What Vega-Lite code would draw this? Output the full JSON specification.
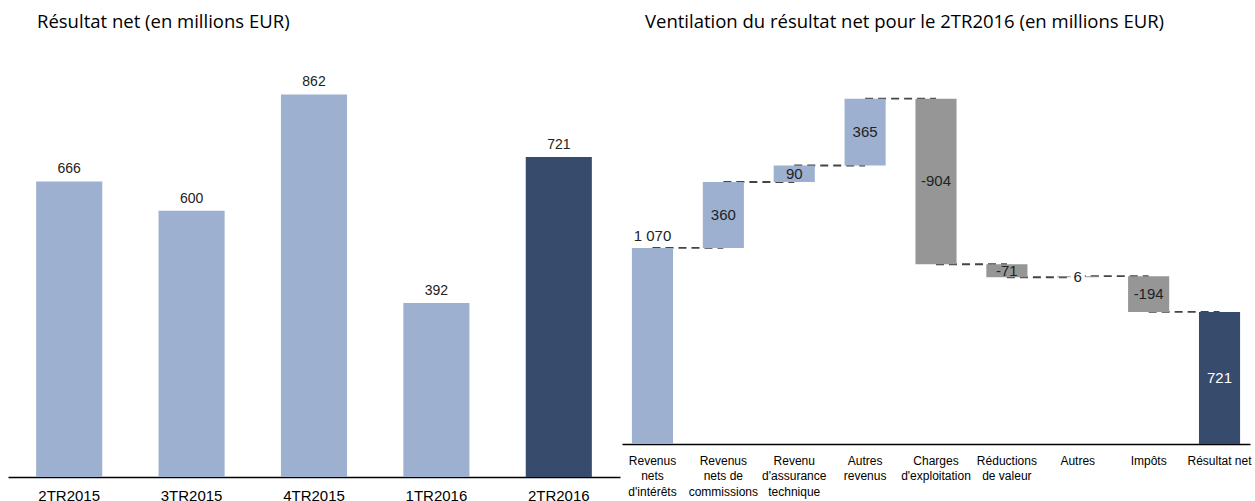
{
  "$schema": "https://vega.github.io/schema/vega-lite/v6.json",
  "background": "white",
  "padding": {"left": 8, "top": 12, "right": 0, "bottom": 0},
  "spacing": 2,
  "bounds": "flush",
  "config": {
    "view": {"stroke": null},
    "font": "Liberation Sans",
    "title": {"font": "Open Sans", "fontSize": 18.5, "fontWeight": "normal", "color": "#000", "anchor": "start", "frame": "group"}
  },
  "datasets": {
    "net": [
      {"q": "2TR2015", "v": 666},
      {"q": "3TR2015", "v": 600},
      {"q": "4TR2015", "v": 862},
      {"q": "1TR2016", "v": 392},
      {"q": "2TR2016", "v": 721}
    ],
    "wf": [
      {"cat": "Revenus nets d'intérêts", "start": 0, "end": 1070, "label": "1 070", "type": "hausse"},
      {"cat": "Revenus nets de commissions", "start": 1070, "end": 1430, "label": "360", "type": "hausse"},
      {"cat": "Revenu d'assurance technique", "start": 1430, "end": 1520, "label": "90", "type": "hausse"},
      {"cat": "Autres revenus", "start": 1520, "end": 1885, "label": "365", "type": "hausse"},
      {"cat": "Charges d'exploitation", "start": 1885, "end": 981, "label": "-904", "type": "baisse"},
      {"cat": "Réductions de valeur", "start": 981, "end": 910, "label": "-71", "type": "baisse"},
      {"cat": "Autres", "start": 910, "end": 916, "label": "6", "type": "baisse"},
      {"cat": "Impôts", "start": 916, "end": 721, "label": "-194", "type": "baisse"},
      {"cat": "Résultat net", "start": 0, "end": 721, "label": "721", "type": "total"}
    ],
    "conn": [
      {"cat": "Revenus nets d'intérêts", "next": "Revenus nets de commissions", "level": 1070},
      {"cat": "Revenus nets de commissions", "next": "Revenu d'assurance technique", "level": 1430},
      {"cat": "Revenu d'assurance technique", "next": "Autres revenus", "level": 1520},
      {"cat": "Autres revenus", "next": "Charges d'exploitation", "level": 1885},
      {"cat": "Charges d'exploitation", "next": "Réductions de valeur", "level": 981},
      {"cat": "Réductions de valeur", "next": "Autres", "level": 910},
      {"cat": "Autres", "next": "Impôts", "level": 916},
      {"cat": "Impôts", "next": "Résultat net", "level": 721}
    ]
  },
  "hconcat": [
    {
      "width": 612,
      "height": 426,
      "title": {"text": "Résultat net (en millions EUR)", "dx": 29, "offset": 20},
      "data": {"name": "net"},
      "encoding": {
        "x": {
          "field": "q", "type": "nominal", "sort": null,
          "scale": {"paddingInner": 0.46, "paddingOuter": 0.23},
          "axis": {"title": null, "labelAngle": 0, "labelAlign": "center", "ticks": false, "domainColor": "#000", "domainWidth": 1.5, "labelFontSize": 15, "labelColor": "#000", "labelPadding": 11}
        },
        "y": {"field": "v", "type": "quantitative", "scale": {"domain": [0, 960], "nice": false}, "axis": null}
      },
      "layer": [
        {
          "mark": {"type": "bar"},
          "encoding": {
            "color": {"condition": {"test": "datum.q === '2TR2016'", "value": "#374C6C"}, "value": "#9DB0CF"}
          }
        },
        {
          "mark": {"type": "text", "baseline": "bottom", "dy": -5, "fontSize": 14, "color": "#222"},
          "encoding": {"text": {"field": "v", "type": "quantitative"}}
        }
      ]
    },
    {
      "width": 628,
      "height": 393,
      "title": {"text": "Ventilation du résultat net pour le 2TR2016 (en millions EUR)", "dx": 23, "offset": 20},
      "layer": [
        {
          "data": {"name": "conn"},
          "mark": {"type": "rule", "strokeDash": [8, 5], "strokeWidth": 1.8, "color": "#444"},
          "encoding": {
            "x": {"field": "cat", "type": "nominal", "scale": {"domain": ["Revenus nets d'intérêts", "Revenus nets de commissions", "Revenu d'assurance technique", "Autres revenus", "Charges d'exploitation", "Réductions de valeur", "Autres", "Impôts", "Résultat net"], "paddingInner": 0.42, "paddingOuter": 0.14}},
            "x2": {"field": "next"},
            "y": {"field": "level", "type": "quantitative", "scale": {"domain": [0, 2145], "nice": false}, "axis": null}
          }
        },
        {
          "data": {"name": "wf"},
          "mark": {"type": "bar"},
          "encoding": {
            "x": {
              "field": "cat", "type": "nominal",
              "scale": {"domain": ["Revenus nets d'intérêts", "Revenus nets de commissions", "Revenu d'assurance technique", "Autres revenus", "Charges d'exploitation", "Réductions de valeur", "Autres", "Impôts", "Résultat net"], "paddingInner": 0.42, "paddingOuter": 0.14},
              "axis": {
                "title": null, "labelAngle": 0, "labelAlign": "center", "ticks": false, "domainColor": "#000", "domainWidth": 1.5,
                "labelFontSize": 12, "labelColor": "#000", "labelPadding": 11, "labelBaseline": "top", "labelLineHeight": 15.5, "labelOverlap": false,
                "labelExpr": "datum.value == \"Revenus nets d'intérêts\" ? [\"Revenus\", \"nets\", \"d'intérêts\"] : datum.value == \"Revenus nets de commissions\" ? [\"Revenus\", \"nets de\", \"commissions\"] : datum.value == \"Revenu d'assurance technique\" ? [\"Revenu\", \"d'assurance\", \"technique\"] : datum.value == \"Autres revenus\" ? [\"Autres\", \"revenus\"] : datum.value == \"Charges d'exploitation\" ? [\"Charges\", \"d'exploitation\"] : datum.value == \"Réductions de valeur\" ? [\"Réductions\", \"de valeur\"] : datum.value"
              }
            },
            "y": {"field": "start", "type": "quantitative", "scale": {"domain": [0, 2145], "nice": false}, "axis": null},
            "y2": {"field": "end"},
            "color": {"field": "type", "type": "nominal", "scale": {"domain": ["hausse", "baisse", "total"], "range": ["#9DB0CF", "#969696", "#374C6C"]}, "legend": null}
          }
        },
        {
          "data": {"name": "wf"},
          "transform": [{"filter": "datum.cat === \"Revenus nets d'intérêts\""}],
          "mark": {"type": "text", "baseline": "bottom", "dy": -4, "fontSize": 15, "color": "#222"},
          "encoding": {
            "x": {"field": "cat", "type": "nominal"},
            "y": {"field": "end", "type": "quantitative", "scale": {"domain": [0, 2145], "nice": false}},
            "text": {"field": "label"}
          }
        },
        {
          "data": {"name": "wf"},
          "transform": [
            {"filter": "datum.cat !== \"Revenus nets d'intérêts\""},
            {"fold": ["start", "end"], "as": ["k", "val"]},
            {"aggregate": [{"op": "mean", "field": "val", "as": "mid"}], "groupby": ["cat", "label", "type"]}
          ],
          "layer": [
            {
              "transform": [{"filter": "datum.cat === 'Autres'"}],
              "mark": {"type": "square", "color": "white", "opacity": 1, "size": 200},
              "encoding": {
                "x": {"field": "cat", "type": "nominal"},
                "y": {"field": "mid", "type": "quantitative", "scale": {"domain": [0, 2145], "nice": false}}
              }
            },
            {
              "mark": {"type": "text", "baseline": "middle", "fontSize": 15},
              "encoding": {
                "x": {"field": "cat", "type": "nominal"},
                "y": {"field": "mid", "type": "quantitative", "scale": {"domain": [0, 2145], "nice": false}},
                "text": {"field": "label"},
                "color": {"condition": {"test": "datum.type === 'total'", "value": "white"}, "value": "#222"}
              }
            }
          ]
        }
      ]
    }
  ]
}
